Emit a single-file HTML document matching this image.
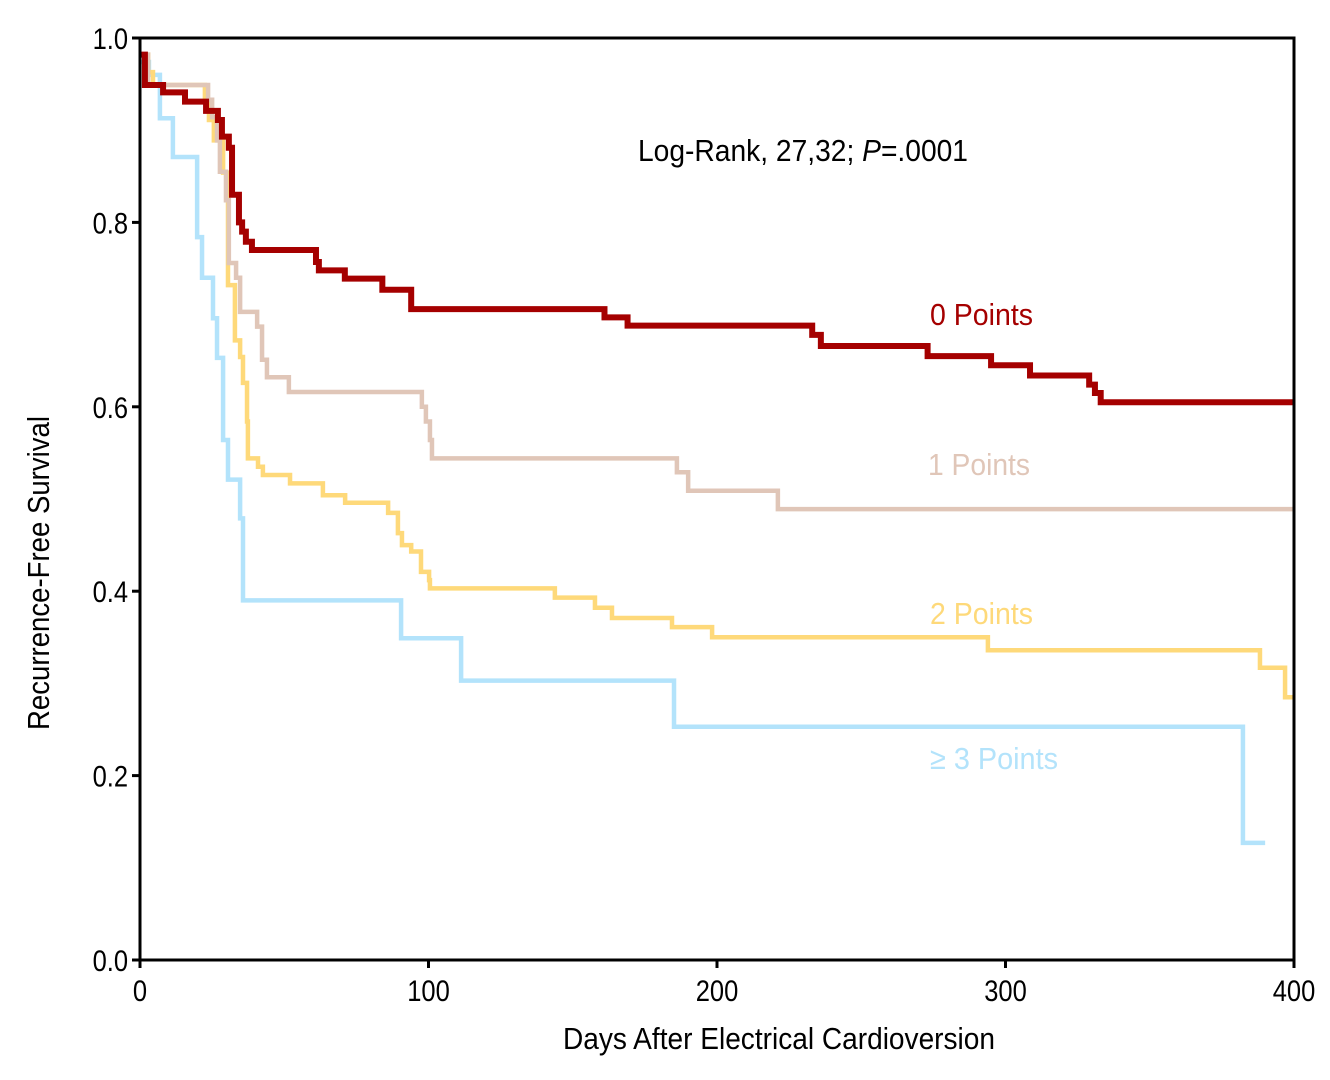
<!DOCTYPE html>
<html><head><meta charset="utf-8"><style>
body{margin:0;background:#fff}
svg text{font-family:"Liberation Sans",sans-serif;}
</style></head><body>
<svg id="chart" width="1330" height="1075" xmlns="http://www.w3.org/2000/svg"></svg>
<script>
const xTicks=[0,100,200,300,400];
const yTicks=[0.0,0.2,0.4,0.6,0.8,1.0];
const redT=[0,1.7,8,15.6,22.9,27,28.4,30.8,31.9,34.3,35.4,36.7,38.8,61,62,71,84,94,161,169,233,236,273,295,308.5,329,331,333];
const redS=[0.982,0.949,0.941,0.931,0.921,0.911,0.893,0.881,0.830,0.800,0.790,0.779,0.770,0.757,0.748,0.739,0.727,0.706,0.697,0.688,0.678,0.666,0.655,0.645,0.634,0.624,0.615,0.605];
const beigeT=[0,2.8,23.6,25,26.7,27.7,29.8,30.8,33.3,34.7,40.6,42.3,44.0,51.6,97.7,99.1,100.5,101.2,186.1,190,221.1];
const beigeS=[0.982,0.949,0.933,0.914,0.889,0.855,0.824,0.756,0.740,0.703,0.687,0.651,0.632,0.616,0.600,0.584,0.564,0.544,0.529,0.509,0.489];
const yellowT=[0,2.8,4.5,22.5,23.9,25.6,28.8,30.5,32.9,34.7,35.7,37.1,37.4,40.9,42.6,52.0,63.4,71.1,86.0,89.4,90.8,94.0,97.4,100.2,100.5,143.8,157.7,163.6,184.4,198.3,293.9,388.2,396.9];
const yellowS=[0.982,0.963,0.949,0.933,0.911,0.889,0.854,0.732,0.672,0.654,0.626,0.584,0.544,0.535,0.526,0.517,0.504,0.496,0.485,0.463,0.450,0.443,0.421,0.412,0.403,0.393,0.382,0.371,0.361,0.350,0.336,0.317,0.285];
const blueT=[0,3.1,6.9,11.4,19.8,21.5,25.3,26.7,28.8,30.5,34.7,35.7,90.5,111.3,185.1,382.3];
const blueS=[0.974,0.960,0.913,0.871,0.784,0.740,0.696,0.653,0.564,0.521,0.479,0.390,0.349,0.303,0.253,0.127];
const ends={red:400,beige:400,yellow:400,blue:390};

const NS="http://www.w3.org/2000/svg";
const svg=document.getElementById('chart');
const X0=140,X1=1294,Y0=960,Y1=38;
const sx=d=>X0+(d/400)*(X1-X0);
const sy=v=>Y0-v*(Y0-Y1);
function mk(tag,attrs){const e=document.createElementNS(NS,tag);for(const k in attrs)e.setAttribute(k,attrs[k]);svg.appendChild(e);return e;}

function curve(T,S,end,color,w,name){
  let d=`M${sx(T[0])},${sy(S[0])}`;
  for(let i=1;i<T.length;i++){d+=` H${sx(T[i])} V${sy(S[i])}`;}
  d+=` H${sx(end)}`;
  const p=mk('path',{d:d,fill:'none',stroke:color,'stroke-width':w});
  
  
}
curve(blueT,blueS,ends.blue,'#b3e3fb',4.5,'curve-3-points');
curve(yellowT,yellowS,ends.yellow,'#fed97a',4.5,'curve-2-points');
curve(beigeT,beigeS,ends.beige,'#e0c6b8',4.5,'curve-1-points');
curve(redT,redS,ends.red,'#a50000',6,'curve-0-points');

const frame=mk('rect',{x:X0,y:Y1,width:X1-X0,height:Y0-Y1,fill:'none',stroke:'#000','stroke-width':3});



xTicks.forEach(t=>{
  const l=mk('line',{x1:sx(t),x2:sx(t),y1:Y0,y2:Y0+8,stroke:'#000','stroke-width':3});
  
  
  const tx=mk('text',{'font-size':30,'text-anchor':'middle',transform:`translate(${sx(t)},${Y0+41}) scale(0.85,1)`});
  tx.textContent=t;
  
  
});
yTicks.forEach(t=>{
  const l=mk('line',{x1:X0-8,x2:X0,y1:sy(t),y2:sy(t),stroke:'#000','stroke-width':3});
  
  
  const tx=mk('text',{'font-size':30,'text-anchor':'end',transform:`translate(${X0-12},${sy(t)+11}) scale(0.85,1)`});
  tx.textContent=t.toFixed(1);
  
  
});
</script>
<svg style="position:absolute;left:0;top:0" width="1330" height="1075" xmlns="http://www.w3.org/2000/svg" font-family="Liberation Sans, sans-serif">
<text x="563" y="1049" font-size="31" textLength="432" lengthAdjust="spacingAndGlyphs">Days After Electrical Cardioversion</text>
<text transform="translate(49,730) rotate(-90)" font-size="31" textLength="314" lengthAdjust="spacingAndGlyphs">Recurrence-Free Survival</text>
<text x="638" y="161" font-size="31" textLength="330" lengthAdjust="spacingAndGlyphs">Log-Rank, 27,32; <tspan font-style="italic">P</tspan>=.0001</text>
<text x="930" y="325" font-size="31" fill="#a50000" textLength="103" lengthAdjust="spacingAndGlyphs">0 Points</text>
<text x="928" y="475" font-size="31" fill="#e0c6b8" textLength="102" lengthAdjust="spacingAndGlyphs">1 Points</text>
<text x="930" y="624" font-size="31" fill="#fed97a" textLength="103" lengthAdjust="spacingAndGlyphs">2 Points</text>
<text x="930" y="769" font-size="31" fill="#b3e3fb" textLength="128" lengthAdjust="spacingAndGlyphs">≥ 3 Points</text>
</svg>
</body></html>
